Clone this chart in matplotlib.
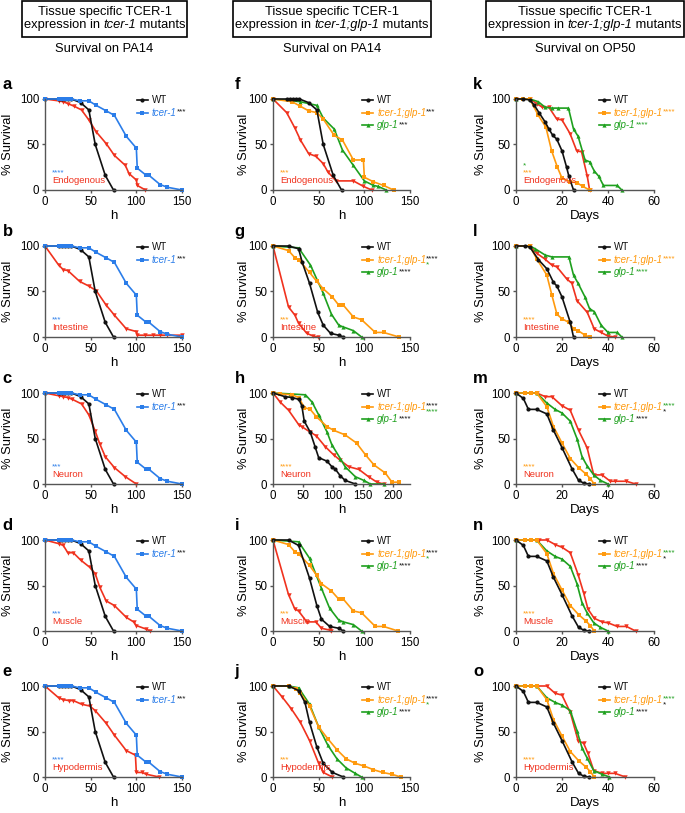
import matplotlib
matplotlib.use('Agg')
import matplotlib.pyplot as plt
from matplotlib.patches import Rectangle

plt.rcParams['font.family'] = ['Liberation Sans', 'DejaVu Sans']

# ---- colours
BLACK = '#111111'
BLUE = '#2b7de9'
RED = '#f0321e'
ORANGE = '#ff9a0e'
GREEN = '#1ea01e'

# ---- column 1: survival on PA14, tcer-1 mutants (hours)
wt1_x = [0, 15, 19, 22, 25, 29, 39, 48, 55, 66, 75]
wt1_y = [100, 100, 100, 100, 100, 100, 96, 88, 50, 16, 0]
tcer1_x = [0, 15, 19, 22, 25, 29, 38, 48, 56, 67, 76, 89, 100, 101, 111, 114, 126, 134, 150]
tcer1_y = [100, 100, 100, 100, 100, 100, 98, 98, 93, 87, 82, 59, 46, 24, 16, 16, 6, 3, 0]

endo_a_x = [0, 15, 20, 25, 32, 40, 48, 56, 67, 76, 88, 92, 100, 101, 110]
endo_a_y = [100, 98, 97, 95, 92, 88, 77, 64, 51, 38, 27, 18, 11, 5, 0]
intest_b_x = [0, 15, 20, 25, 38, 48, 56, 67, 76, 89, 100, 101, 110, 118, 126, 134, 150]
intest_b_y = [100, 79, 74, 73, 61, 56, 51, 35, 24, 9, 6, 2, 2, 2, 2, 2, 2]
neuron_c_x = [0, 15, 20, 25, 30, 40, 48, 55, 60, 66, 76, 88, 100]
neuron_c_y = [100, 97, 96, 95, 93, 88, 76, 58, 44, 30, 18, 8, 0]
muscle_d_x = [0, 15, 20, 25, 31, 39, 49, 55, 60, 67, 76, 89, 97, 100, 111, 115]
muscle_d_y = [100, 96, 94, 86, 86, 78, 70, 63, 48, 33, 28, 15, 10, 6, 2, 0]
hypo_e_x = [0, 15, 20, 26, 31, 40, 49, 55, 67, 76, 89, 99, 100, 106, 111, 125]
hypo_e_y = [100, 87, 85, 84, 84, 80, 78, 73, 59, 46, 29, 24, 5, 5, 3, 0]

# ---- column 2: survival on PA14, tcer-1;glp-1 mutants (hours)
wt_f_x = wt1_x
wt_f_y = wt1_y
dbl_f_x = [0, 21, 30, 39, 48, 55, 67, 76, 88, 99, 100, 110, 121, 132]
dbl_f_y = [100, 97, 92, 87, 85, 78, 60, 55, 33, 33, 14, 9, 5, 0]
glp_f_x = [0, 21, 30, 48, 55, 67, 76, 88, 100, 110, 115, 124]
glp_f_y = [100, 98, 97, 93, 79, 67, 44, 27, 10, 5, 4, 0]
endo_f_x = [0, 15, 24, 30, 39, 47, 55, 60, 69, 88, 99, 108]
endo_f_y = [100, 85, 68, 55, 40, 37, 29, 20, 10, 10, 4, 0]

wt_g_x = [0, 17, 28, 32, 40, 49, 55, 63, 72, 77]
wt_g_y = [100, 100, 97, 82, 59, 27, 13, 4, 2, 0]
dbl_g_x = [0, 17, 24, 28, 40, 48, 55, 65, 72, 77, 88, 97, 112, 121, 138]
dbl_g_y = [100, 95, 87, 85, 71, 61, 53, 44, 35, 35, 22, 19, 5, 5, 0]
glp_g_x = [0, 28, 41, 55, 64, 72, 77, 88, 97]
glp_g_y = [100, 98, 79, 48, 25, 13, 11, 7, 0]
intest_g_x = [0, 17, 24, 28, 37, 44, 49]
intest_g_y = [100, 33, 24, 15, 4, 1, 0]

wt_h_x = [0, 20, 32, 43, 48, 52, 62, 70, 76, 90, 98, 104, 112, 120, 137]
wt_h_y = [100, 96, 95, 93, 86, 69, 57, 41, 29, 25, 19, 16, 9, 4, 0]
dbl_h_x = [0, 12, 32, 43, 52, 62, 72, 90, 101, 120, 139, 154, 168, 187, 198, 209]
dbl_h_y = [100, 99, 98, 95, 84, 82, 74, 63, 59, 54, 45, 32, 21, 12, 2, 2]
glp_h_x = [0, 29, 54, 65, 76, 90, 98, 112, 120, 137, 151, 162, 184]
glp_h_y = [100, 99, 98, 90, 76, 57, 43, 28, 19, 8, 4, 0, 0]
neuron_h_x = [0, 12, 26, 43, 48, 62, 72, 87, 101, 112, 126, 143, 159, 173, 184]
neuron_h_y = [100, 90, 81, 65, 63, 57, 53, 41, 32, 26, 19, 16, 8, 2, 0]

wt_i_x = [0, 17, 28, 40, 48, 53, 62, 72, 77]
wt_i_y = [100, 100, 94, 58, 28, 13, 5, 3, 0]
dbl_i_x = [0, 17, 24, 28, 40, 48, 53, 64, 72, 77, 88, 97, 112, 121, 137]
dbl_i_y = [100, 95, 87, 85, 72, 61, 52, 44, 35, 35, 22, 20, 5, 5, 0]
glp_i_x = [0, 28, 40, 53, 62, 72, 77, 88, 97]
glp_i_y = [100, 98, 80, 47, 25, 12, 10, 7, 0]
muscle_i_x = [0, 17, 24, 28, 37, 47, 53, 62, 64]
muscle_i_y = [100, 40, 24, 22, 10, 10, 3, 1, 0]

wt_j_x = [0, 17, 28, 35, 40, 48, 55, 65, 77]
wt_j_y = [100, 100, 95, 82, 60, 33, 15, 5, 0]
dbl_j_x = [0, 17, 25, 30, 40, 50, 60, 70, 80, 90, 100, 110, 120, 130, 140]
dbl_j_y = [100, 100, 97, 92, 78, 55, 42, 30, 20, 15, 12, 8, 5, 3, 0]
glp_j_x = [0, 17, 28, 40, 50, 60, 70, 80, 90, 97]
glp_j_y = [100, 100, 98, 80, 55, 35, 20, 10, 4, 0]
hypo_j_x = [0, 10, 20, 30, 40, 50, 55, 65]
hypo_j_y = [100, 88, 75, 60, 40, 15, 5, 0]

# ---- column 3: survival on OP50, tcer-1;glp-1 mutants (days)
wt_k_x = [0, 3, 6, 8, 10, 12.6, 14.3, 16, 17.7, 20, 22, 23, 25]
wt_k_y = [100, 100, 99, 93, 85, 75, 67, 60, 56, 43, 25, 15, 0]
dbl_k_x = [0, 3, 6, 9.7, 13, 15.5, 18, 20, 23.6, 26.5, 29, 32]
dbl_k_y = [100, 100, 100, 82, 69, 43, 25, 13, 9, 8, 4, 0]
glp_k_x = [0, 6, 9.7, 12.6, 15.5, 18.4, 22.8, 25, 27, 30, 32, 34, 36, 38, 44, 46]
glp_k_y = [100, 100, 97, 91, 90, 90, 90, 67, 59, 33, 31, 21, 15, 5, 5, 0]
endo_k_x = [0, 6, 9, 11.4, 14.3, 17.7, 20, 23.5, 26.4, 28.5, 31, 32]
endo_k_y = [100, 100, 95, 91, 91, 78, 77, 62, 43, 42, 15, 0]

wt_l_x = [0, 4, 6, 9.75, 13.4, 16.3, 17.8, 20, 23.6, 25]
wt_l_y = [100, 100, 99, 85, 75, 60, 56, 44, 16, 0]
dbl_l_x = [0, 6, 9, 13.4, 15.6, 17.8, 20, 23, 25, 27, 30, 32]
dbl_l_y = [100, 100, 86, 68, 46, 25, 20, 16, 9, 7, 2, 0]
glp_l_x = [0, 6, 8.3, 12.7, 15.6, 23, 25, 27, 30, 32, 34, 37, 40, 44, 46]
glp_l_y = [100, 100, 97, 90, 88, 88, 68, 59, 44, 31, 28, 13, 5, 5, 0]
intest_l_x = [0, 6, 9, 12.4, 15.6, 17.8, 22, 24.3, 26.5, 31, 34, 37, 40, 43]
intest_l_y = [100, 100, 92, 86, 79, 77, 64, 59, 40, 27, 9, 5, 1, 0]

wt_m_x = [0, 3.2, 5.4, 9, 13.4, 16.3, 20, 24.3, 27.2, 29.4, 31.6]
wt_m_y = [100, 94, 82, 82, 77, 59, 40, 17, 4, 1, 0]
dbl_m_x = [0, 4, 6.5, 9, 13.4, 16.3, 20, 23.6, 27.2, 30.4, 32.3, 34]
dbl_m_y = [100, 100, 100, 100, 85, 63, 45, 28, 18, 11, 6, 0]
glp_m_x = [0, 9, 13.4, 17, 20, 23.6, 26.5, 28.7, 30.9, 33.8, 36.7, 40]
glp_m_y = [100, 100, 89, 82, 78, 69, 50, 30, 20, 10, 4, 0]
neuron_m_x = [0, 9, 12.7, 15.6, 20, 23.6, 27.2, 30.9, 33.8, 37.4, 41, 43, 48, 52]
neuron_m_y = [100, 100, 96, 96, 86, 81, 59, 40, 10, 10, 3, 3, 3, 0]

glp_n_x = [0, 9, 13.4, 17, 20, 23.6, 26.5, 28.7, 30.9, 33.8, 36.7, 40]
glp_n_y = [100, 100, 88, 82, 79, 71, 52, 31, 20, 9, 4, 0]
muscle_n_x = [0, 10, 13.4, 17, 20, 23.6, 27, 29.4, 31.3, 34, 37.4, 40, 44, 48, 52]
muscle_n_y = [100, 100, 100, 95, 92, 86, 62, 42, 24, 14, 10, 9, 5, 5, 0]

glp_o_x = [0, 9, 13.4, 17, 20, 23.6, 26.5, 28.7, 30.9, 33.8, 37.4, 40.6]
glp_o_y = [100, 100, 87, 82, 79, 73, 51, 32, 21, 7, 3, 0]
hypo_o_x = [0, 13.4, 17, 20, 23.6, 27, 29.4, 31.3, 33.8, 37.4, 40, 43, 47.6]
hypo_o_y = [100, 100, 92, 90, 71, 40, 37, 26, 7, 4, 4, 4, 0]

# ---- layout (pixel geometry of the 685x813 reference)
W, H = 685, 813
col_left = [45, 273, 516]
col_width = [137, 137, 138]
row_bottom = [190, 337, 484, 631, 777]
ax_h = 91
ylab_x = [-0.225, -0.17, -0.21]
letter_x = [-0.31, -0.28, -0.31]


def style(c, m):
    return dict(color=c, marker=m, ms=3 if m != 'v' else 3.2, lw=1.2, mew=0,
                clip_on=False)


def legend(ax, x0, entries):
    for i, (color, marker, label, stars, stars2) in enumerate(entries):
        y = 0.985 - i * 0.135
        ax.plot([x0, x0 + 0.08], [y, y], color=color, lw=1.2,
                transform=ax.transAxes, clip_on=False)
        ax.plot([x0 + 0.04], [y], marker=marker, color=color, ms=3, mew=0,
                transform=ax.transAxes, clip_on=False)
        t = ax.text(x0 + 0.11, y, label, color=color, fontsize=7,
                    style='normal' if label == 'WT' else 'italic',
                    va='center', ha='left', transform=ax.transAxes)
        if stars:
            s = ax.annotate(stars[0], xy=(1, 0.2), xycoords=t, fontsize=5.8,
                            color=stars[1], va='bottom', ha='left')
            if stars2:
                ax.annotate(stars2[0], xy=(0, 0.15), xycoords=s, fontsize=5.8,
                            color=stars2[1], va='top', ha='left')


def inner(ax, stars_list, label):
    y = 0.19
    for txt, c in stars_list:
        ax.text(0.05, y, txt, color=c, fontsize=5.8, transform=ax.transAxes,
                va='center', ha='left')
        y += 0.07
    ax.text(0.05, 0.10, label, color=RED, fontsize=6.8,
            transform=ax.transAxes, va='center', ha='left')


fig = plt.figure(figsize=(W / 100, H / 100), dpi=100)


def make_ax(r, c, xmax, xticks, xlabel, letter):
    left = col_left[c] / W
    bottom = 1 - row_bottom[r] / H
    ax = fig.add_axes([left, bottom, col_width[c] / W, ax_h / H])
    ax.set_xlim(0, xmax)
    ax.set_ylim(0, 100)
    ax.set_xticks(xticks)
    ax.set_yticks([0, 50, 100])
    for s in ['top', 'right']:
        ax.spines[s].set_visible(False)
    for s in ['left', 'bottom']:
        ax.spines[s].set_color('#555555')
        ax.spines[s].set_linewidth(1.0)
    ax.tick_params(length=2.5, width=1, color='#555555', labelsize=8.3, pad=1.5)
    ax.set_xlabel(xlabel, fontsize=9.5, labelpad=2)
    ax.set_ylabel('% Survival', fontsize=9.3)
    ax.yaxis.set_label_coords(ylab_x[c], 0.5)
    ax.text(letter_x[c], 1.16, letter, transform=ax.transAxes,
            fontsize=12, fontweight='bold', va='center', ha='left')
    return ax


# column 1
col1 = [
    ('a', endo_a_x, endo_a_y, 'Endogenous', '****'),
    ('b', intest_b_x, intest_b_y, 'Intestine', '***'),
    ('c', neuron_c_x, neuron_c_y, 'Neuron', '***'),
    ('d', muscle_d_x, muscle_d_y, 'Muscle', '***'),
    ('e', hypo_e_x, hypo_e_y, 'Hypodermis', '****'),
]
for r, (letter, rx, ry, name, st) in enumerate(col1):
    ax = make_ax(r, 0, 150, [0, 50, 100, 150], 'h', letter)
    ax.plot(rx, ry, **style(RED, 'v'))
    ax.plot(wt1_x, wt1_y, **style(BLACK, 'o'))
    ax.plot(tcer1_x, tcer1_y, **style(BLUE, 's'))
    legend(ax, 0.67, [(BLACK, 'o', 'WT', None, None),
                      (BLUE, 's', 'tcer-1', ('***', BLACK), None)])
    inner(ax, [(st, BLUE)], name)

# column 2
col2 = [
    ('f', wt_f_x, wt_f_y, dbl_f_x, dbl_f_y, glp_f_x, glp_f_y, endo_f_x, endo_f_y,
     'Endogenous', '***', ('***', BLACK), None, ('***', BLACK), 150),
    ('g', wt_g_x, wt_g_y, dbl_g_x, dbl_g_y, glp_g_x, glp_g_y, intest_g_x, intest_g_y,
     'Intestine', '***', ('****', BLACK), ('*', GREEN), ('****', BLACK), 150),
    ('h', wt_h_x, wt_h_y, dbl_h_x, dbl_h_y, glp_h_x, glp_h_y, neuron_h_x, neuron_h_y,
     'Neuron', '****', ('****', BLACK), ('****', GREEN), ('****', BLACK), 228),
    ('i', wt_i_x, wt_i_y, dbl_i_x, dbl_i_y, glp_i_x, glp_i_y, muscle_i_x, muscle_i_y,
     'Muscle', '***', ('****', BLACK), ('*', GREEN), ('****', BLACK), 150),
    ('j', wt_j_x, wt_j_y, dbl_j_x, dbl_j_y, glp_j_x, glp_j_y, hypo_j_x, hypo_j_y,
     'Hypodermis', '***', ('****', BLACK), ('*', GREEN), ('****', BLACK), 150),
]
for r, (letter, wx, wy, ox, oy, gx, gy, rx, ry, name, st, s1, s2, s3, xmax) in enumerate(col2):
    ticks = [0, 50, 100, 150, 200] if xmax > 200 else [0, 50, 100, 150]
    ax = make_ax(r, 1, xmax, ticks, 'h', letter)
    ax.plot(rx, ry, **style(RED, 'v'))
    ax.plot(gx, gy, **style(GREEN, '^'))
    ax.plot(ox, oy, **style(ORANGE, 's'))
    ax.plot(wx, wy, **style(BLACK, 'o'))
    legend(ax, 0.65, [(BLACK, 'o', 'WT', None, None),
                      (ORANGE, 's', 'tcer-1;glp-1', s1, s2),
                      (GREEN, '^', 'glp-1', s3, None)])
    inner(ax, [(st, ORANGE)], name)

# column 3
col3 = [
    ('k', wt_k_x, wt_k_y, dbl_k_x, dbl_k_y, glp_k_x, glp_k_y, endo_k_x, endo_k_y,
     'Endogenous', [('***', ORANGE), ('*', GREEN)], ('****', ORANGE), None, ('****', GREEN)),
    ('l', wt_l_x, wt_l_y, dbl_l_x, dbl_l_y, glp_l_x, glp_l_y, intest_l_x, intest_l_y,
     'Intestine', [('****', ORANGE)], ('****', ORANGE), None, ('****', GREEN)),
    ('m', wt_m_x, wt_m_y, dbl_m_x, dbl_m_y, glp_m_x, glp_m_y, neuron_m_x, neuron_m_y,
     'Neuron', [('****', ORANGE)], ('****', GREEN), ('*', BLACK), ('****', BLACK)),
    ('n', wt_m_x, wt_m_y, dbl_m_x, dbl_m_y, glp_n_x, glp_n_y, muscle_n_x, muscle_n_y,
     'Muscle', [('****', ORANGE)], ('****', GREEN), ('*', BLACK), ('****', BLACK)),
    ('o', wt_m_x, wt_m_y, dbl_m_x, dbl_m_y, glp_o_x, glp_o_y, hypo_o_x, hypo_o_y,
     'Hypodermis', [('****', ORANGE)], ('****', GREEN), ('*', BLACK), ('****', BLACK)),
]
for r, (letter, wx, wy, ox, oy, gx, gy, rx, ry, name, st, s1, s2, s3) in enumerate(col3):
    ax = make_ax(r, 2, 60, [0, 20, 40, 60], 'Days', letter)
    ax.plot(rx, ry, **style(RED, 'v'))
    ax.plot(gx, gy, **style(GREEN, '^'))
    ax.plot(ox, oy, **style(ORANGE, 's'))
    ax.plot(wx, wy, **style(BLACK, 'o'))
    legend(ax, 0.60, [(BLACK, 'o', 'WT', None, None),
                      (ORANGE, 's', 'tcer-1;glp-1', s1, s2),
                      (GREEN, '^', 'glp-1', s3, None)])
    inner(ax, st, name)

# ---- column headers: boxed two-line title plus subtitle
renderer = fig.canvas.get_renderer()


def rich_line(xc, y, parts, fs):
    texts = [fig.text(0, 1 - y / H, s, fontsize=fs, style=st, ha='left', va='center')
             for s, st in parts]
    widths = [t.get_window_extent(renderer).width for t in texts]
    x = xc - sum(widths) / 2
    for t, w in zip(texts, widths):
        t.set_x(x / W)
        x += w


headers = [
    (22, 187, 'tcer-1', 'Survival on PA14'),
    (233, 431, 'tcer-1;glp-1', 'Survival on PA14'),
    (486, 684, 'tcer-1;glp-1', 'Survival on OP50'),
]
HFS = 9.3
for x0, x1, strain, sub in headers:
    xc = (x0 + x1) / 2
    fig.patches.append(Rectangle((x0 / W, 1 - 37 / H), (x1 - x0) / W, 36 / H,
                                 transform=fig.transFigure, fill=False,
                                 ec='black', lw=1.2))
    fig.text(xc / W, 1 - 12 / H, 'Tissue specific TCER-1', ha='center',
             va='center', fontsize=HFS)
    rich_line(xc, 25, [('expression in\u00a0', 'normal'), (strain, 'italic'),
                       ('\u00a0mutants', 'normal')], HFS)
    fig.text(xc / W, 1 - 49 / H, sub, ha='center', va='center', fontsize=HFS)

fig.savefig('out.png', dpi=100)
